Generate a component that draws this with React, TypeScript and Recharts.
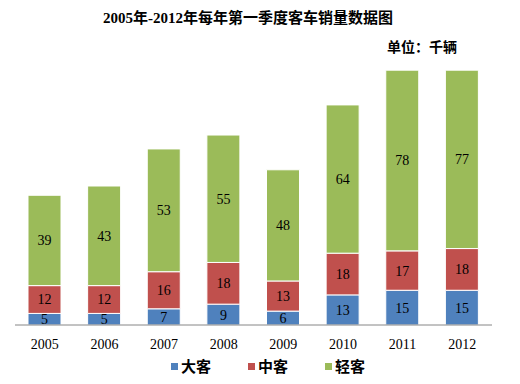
import { Bar, BarChart, LabelList, XAxis, YAxis } from 'recharts';

const years = ['2005', '2006', '2007', '2008', '2009', '2010', '2011', '2012'];
const large = [5, 5, 7, 9, 6, 13, 15, 15];
const medium = [12, 12, 16, 18, 13, 18, 17, 18];
const light = [39, 43, 53, 55, 48, 64, 78, 77];

const series = [
  { key: 'large', name: '大客', color: '#4F81BD' },
  { key: 'medium', name: '中客', color: '#C0504D' },
  { key: 'light', name: '轻客', color: '#9BBB59' },
];

const data = years.map((year, i) => ({
  year,
  large: large[i],
  medium: medium[i],
  light: light[i],
}));

const serif = '"Times New Roman", "Liberation Serif", "Noto Sans CJK SC", serif';
const cjk = '"Noto Sans CJK SC", sans-serif';

export default function App() {
  return (
    <div style={{ position: 'absolute', left: 0, top: 0, width: 520, height: 384, background: '#fff' }}>
      <div
        style={{
          position: 'absolute',
          top: 8,
          left: 103,
          fontFamily: serif,
          fontWeight: 700,
          fontSize: 15,
          lineHeight: '20px',
          color: '#000',
          whiteSpace: 'nowrap',
        }}
      >
        2005年-2012年每年第一季度客车销量数据图
      </div>
      <div
        style={{
          position: 'absolute',
          top: 36,
          left: 387,
          fontFamily: cjk,
          fontWeight: 700,
          fontSize: 14,
          lineHeight: '20px',
          color: '#000',
          whiteSpace: 'nowrap',
        }}
      >
        单位：千辆
      </div>
      <BarChart
        width={520}
        height={384}
        data={data}
        margin={{ top: 47, right: 28, left: 15, bottom: 29 }}
        barSize={33}
      >
        <XAxis
          dataKey="year"
          tickLine={false}
          axisLine={{ stroke: '#868686' }}
          tick={{ fill: '#000', fontSize: 14, fontFamily: serif }}
          dy={6}
          height={30}
        />
        <YAxis hide domain={[0, 120]} />
        {series.map((s) => (
          <Bar
            key={s.key}
            dataKey={s.key}
            name={s.name}
            stackId="a"
            fill={s.color}
            stroke="#fff"
            strokeWidth={1}
            isAnimationActive={false}
          >
            <LabelList
              dataKey={s.key}
              position="center"
              fill="#000"
              style={{ fontSize: 14, fontFamily: serif }}
            />
          </Bar>
        ))}
      </BarChart>
      <div
        style={{
          position: 'absolute',
          top: 356,
          left: 0,
          width: 520,
          display: 'flex',
          justifyContent: 'center',
          gap: 37,
          paddingLeft: 16,
          boxSizing: 'border-box',
        }}
      >
        {series.map((s) => (
          <div key={s.key} style={{ display: 'flex', alignItems: 'center', gap: 3 }}>
            <span style={{ width: 7, height: 7, background: s.color, display: 'inline-block' }} />
            <span style={{ fontFamily: cjk, fontWeight: 700, fontSize: 15, lineHeight: '20px', color: '#000' }}>
              {s.name}
            </span>
          </div>
        ))}
      </div>
    </div>
  );
}
